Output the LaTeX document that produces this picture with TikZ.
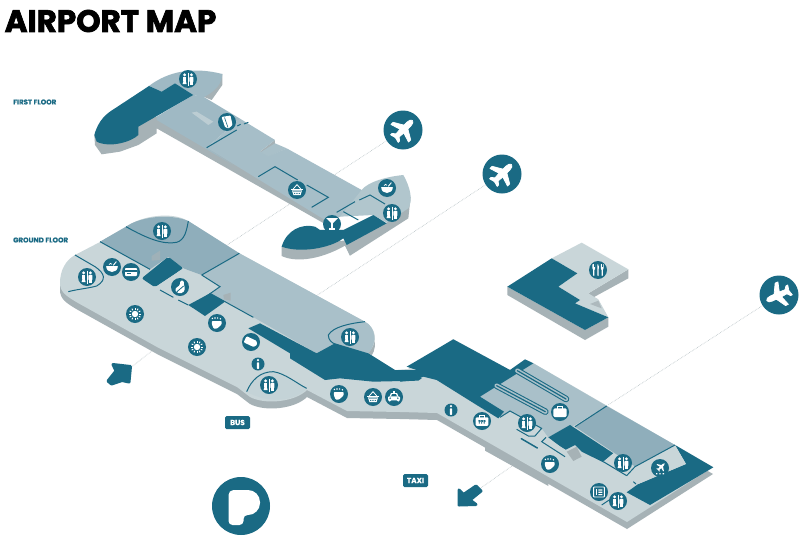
\documentclass[tikz,border=0pt]{standalone}
\usepackage{fontspec}
\setmainfont{Poppins}[BoldFeatures={FakeBold=2.2}]
\newfontfamily\lblfont{Poppins}[BoldFeatures={FakeBold=0.1}]
\definecolor{mapteal}{HTML}{1A6A84}
\definecolor{sidegrey}{HTML}{A6B2B6}
\definecolor{floorlight}{HTML}{C9D6D9}
\definecolor{floormid}{HTML}{A9C0C9}
\definecolor{floordeep}{HTML}{8FAEBB}
\definecolor{floorupper}{HTML}{9FB9C4}
\definecolor{floorupperb}{HTML}{B1C6CD}
\definecolor{linkgrey}{HTML}{B5BFC2}
\tikzset{
  zA/.style={shift={(0,0)},scale=0.33333},
  zB/.style={shift={(40,210)},scale=0.33333},
  zC/.style={shift={(400,330)},scale=0.33333},
  zD/.style={shift={(490,230)},scale=0.33333},
  wall/.style={draw=mapteal,line width=1pt},
  link/.style={draw=linkgrey,line width=.6pt,densely dotted},
  iconc/.style={circle,fill=mapteal,minimum size=18pt,inner sep=0pt},
  bigc/.style={circle,fill=mapteal,minimum size=39pt,inner sep=0pt},
  tagbox/.style={fill=mapteal,rounded corners=1.5pt,text=white,font=\lblfont\bfseries\fontsize{7.4}{8}\selectfont,minimum width=25pt,minimum height=13pt,inner sep=0pt},
  floorlabel/.style={text=mapteal,anchor=west,inner sep=0pt,font=\lblfont\bfseries\fontsize{7}{8}\selectfont},
  ic-wc/.pic={
    \fill[white] (-3.4,-4.2) circle (1.6) (3.4,-4.2) circle (1.6);
    \fill[white] (-4.9,-1.8) rectangle (-1.9,1.5);
    \fill[white] (-3.4,-2.2) -- (-1.4,5) -- (-5.4,5) -- cycle;
    \fill[white,rounded corners=.8pt] (1.4,-2.2) rectangle (5.4,3.2);
    \fill[white] (2,3) rectangle (4.8,5.5);
    \draw[white,line width=.8pt] (0,-6.5) -- (0,6.5);
  },
  ic-sun/.pic={
    \fill[white] (0,0) circle (3.2);
    \foreach \a in {0,30,...,330}{\draw[white,line width=.9pt] (\a:4.3) -- (\a:6.2);}
  },
  ic-bowl/.pic={
    \fill[white] (-5.8,-.8) -- (5.8,-.8) .. controls (5.8,3) and (3,5) .. (0,5) .. controls (-3,5) and (-5.8,3) .. (-5.8,-.8) -- cycle;
    \draw[white,line width=.9pt] (1.2,-1.6) -- (4.4,-5.4);
    \draw[white,line width=.7pt] (-3,-2.4) .. controls (-2,-4) and (-.8,-4) .. (0,-2.6);
  },
  ic-card/.pic={
    \fill[white,rounded corners=.8pt] (-6,-4) rectangle (6,4);
    \fill[mapteal] (-6,-1.8) rectangle (6,-.2);
    \fill[mapteal] (-4.5,1.4) rectangle (-.5,2.2);
  },
  ic-tag/.pic={
    \fill[white,rounded corners=1pt,rotate=-25] (-6.5,-3.4) -- (4.5,-3.4) -- (6.8,0) -- (4.5,3.4) -- (-6.5,3.4) -- cycle;
  },
  ic-drink/.pic={
    \fill[white,rounded corners=.8pt] (-5.5,-5) -- (3.5,-6.5) -- (5.5,3) -- (1.5,6.5) -- (-2,5) -- cycle;
    \draw[mapteal,line width=.6pt] (-2.5,-4.5) -- (1,5.5);
  },
  ic-coffee/.pic={
    \fill[white,rounded corners=.8pt] (-5.2,-2) -- (4.6,-2) -- (4.6,1.5) -- (0,5.6) -- (-3.4,5.6) -- (-5.2,1) -- cycle;
    \fill[white] (-4.6,-4.6) circle (.8) (-2,-5) circle (.8) (.6,-5) circle (.8) (3.4,-4.2) circle (.8);
  },
  ic-info/.pic={
    \fill[white] (0,-4.6) circle (1.4);
    \fill[white,rounded corners=.6pt] (-1.3,-2) rectangle (1.3,5.6);
  },
  ic-basket/.pic={
    \fill[white] (-6,-1) rectangle (6,.4);
    \fill[white] (-5,.4) -- (5,.4) -- (3.6,5) -- (-3.6,5) -- cycle;
    \draw[white,line width=.8pt] (-3.8,-1) -- (0,-5.4) -- (3.8,-1);
    \foreach \p in {-3,-1,1,3}{\fill[mapteal] (\p,1.5) circle (.55);\fill[mapteal] (\p*.8,3.4) circle (.55);}
  },
  ic-car/.pic={
    \fill[white,rounded corners=1pt] (-6,-.6) rectangle (6,3.4);
    \fill[white] (-4.4,-.6) -- (-3,-4) -- (3,-4) -- (4.4,-.6) -- cycle;
    \fill[mapteal] (-2.8,-1) -- (-1.9,-3) -- (1.9,-3) -- (2.8,-1) -- cycle;
    \fill[white] (-1.3,-5.6) rectangle (1.3,-4);
    \fill[white] (-4.2,3) circle (1.6) (4.2,3) circle (1.6);
    \fill[mapteal] (-3.8,1.2) circle (.8) (3.8,1.2) circle (.8);
  },
  ic-lug/.pic={
    \draw[white,line width=.8pt] (-2.4,-3.4) -- (-2.4,-5.2) -- (2.4,-5.2) -- (2.4,-3.4);
    \fill[white,rounded corners=1pt] (-6.4,-3.6) rectangle (6.4,4.8);
    \node[text=mapteal,inner sep=0pt,font=\lblfont\bfseries\fontsize{4.6}{5}\selectfont] at (0,.8) {???};
  },
  ic-case/.pic={
    \draw[white,line width=.9pt] (-2.6,-3.2) -- (-2.6,-5.4) -- (2.6,-5.4) -- (2.6,-3.2);
    \fill[white,rounded corners=1.2pt] (-6.6,-3.6) rectangle (6.6,5);
  },
  ic-cocktail/.pic={
    \fill[white] (-6,-6) -- (6,-6) -- (.6,-.6) -- (-.6,-.6) -- cycle;
    \fill[white] (-.55,-.8) rectangle (.55,4.6);
    \fill[white] (-3.4,4.4) rectangle (3.4,5.6);
  },
  ic-fork/.pic={
    \fill[white,rounded corners=.6pt] (-5.6,-6) -- (-2.8,-6) -- (-2.8,-1.2) -- (-3.6,-.4) -- (-3.6,6) -- (-4.8,6) -- (-4.8,-.4) -- (-5.6,-1.2) -- cycle;
    \fill[mapteal] (-4.5,-6) rectangle (-4.1,-2.6);
    \fill[white,rounded corners=.6pt] (-.6,6) -- (-.6,-6) .. controls (.9,-5.6) and (1,-2) .. (.6,0) -- (.6,6) -- cycle;
    \fill[white,rounded corners=.6pt] (2.8,-6) -- (5.6,-6) -- (5.6,-1.2) -- (4.8,-.4) -- (4.8,6) -- (3.6,6) -- (3.6,-.4) -- (2.8,-1.2) -- cycle;
    \fill[mapteal] (4.1,-6) rectangle (4.5,-2.6);
  },
  ic-gate/.pic={
    \fill[white,rotate=-45,shift={(0,-1.5)},scale=.42] (0,-12) .. controls (1.8,-12) and (2.4,-10) .. (2.4,-8) -- (2.4,-4) -- (11,1.5) -- (11,4) -- (2.4,1.5) -- (2,7) -- (5,9.5) -- (5,11) -- (0,10) -- (-5,11) -- (-5,9.5) -- (-2,7) -- (-2.4,1.5) -- (-11,4) -- (-11,1.5) -- (-2.4,-4) -- (-2.4,-8) .. controls (-2.4,-10) and (-1.8,-12) .. (0,-12) -- cycle;
    \fill[white] (-4,5) rectangle (-2.6,6.4) (-.7,5) rectangle (.7,6.4) (2.6,5) rectangle (4,6.4);
  },
  ic-cal/.pic={
    \draw[white,line width=.9pt,rounded corners=.6pt] (-5.4,-5) rectangle (5.4,5);
    \fill[white] (-3.4,-2.6) rectangle (-1.8,3.2);
    \fill[white] (-.6,-2.6) rectangle (3.4,-1.4) (-.6,-.4) rectangle (3.4,.8) (-.6,2) rectangle (3.4,3.2);
  },
  ic-shop/.pic={
    \fill[white,rounded corners=1.5pt] (.2,-6.5) -- (3.8,-6.5) -- (3.8,-2) -- (5.2,1.5) -- (3,6) -- (-3,6) -- (-5.2,2.5) -- (-3,0) -- (.2,-1.8) -- cycle;
    \draw[mapteal,line width=.8pt] (-3.4,5) -- (3.6,-1);
  },
  bigplane/.pic={
    \fill[white,line join=round,draw=white,line width=.7pt] (0,-13.5) .. controls (1.9,-13.5) and (2.7,-11) .. (2.7,-8.5) -- (2.7,-4.2) -- (12.4,1.5) -- (12.4,4.6) -- (2.7,1.6) -- (2.2,7.6) -- (5.4,10.2) -- (5.4,12.2) -- (0,10.8) -- (-5.4,12.2) -- (-5.4,10.2) -- (-2.2,7.6) -- (-2.7,1.6) -- (-12.4,4.6) -- (-12.4,1.5) -- (-2.7,-4.2) -- (-2.7,-8.5) .. controls (-2.7,-11) and (-1.9,-13.5) .. (0,-13.5) -- cycle;
  },
}
\newcommand{\ico}[4]{\node[iconc] (#1) at (#2,#3) {}; \pic at (#1) {#4};}
\def\groundpath{(60,283) .. controls (60,270) and (66,260) .. (75,255) -- (100,242) -- (126,227) .. controls (140,216) and (172,211) .. (188,221) -- (239,253) -- (365,322) .. controls (376,328) and (379,342) .. (368,353) -- (395,370) -- (408,369) -- (453,339) -- (510,370) -- (527,360) -- (533,363) -- (713,467) -- (627,522) -- (437,413) -- (400,412) -- (347,411) -- (307,390) .. controls (295,402) and (265,405) .. (250,397) -- (237,387) -- (157,347) -- (78,303) .. controls (66,296) and (60,292) .. (60,283) -- cycle}
\begin{document}
\begin{tikzpicture}[x=1pt,y=-1pt]
\useasboundingbox (0,0) rectangle (808,546);
\fill[white] (0,0) rectangle (808,546);
\node[anchor=west,inner sep=0pt,font=\bfseries\fontsize{31}{33}\selectfont,text=black] (title) at (4.5,21) {AIRPORT MAP};
\node[floorlabel] (firstlbl) at (13,102) {FIRST FLOOR};
\node[floorlabel] (groundlbl) at (13,240) {GROUND FLOOR};
\node[tagbox] (bus) at (237.5,422.5) {BUS};
\node[tagbox] (taxi) at (415.5,480.5) {TAXI};
% big circles and links
\node[bigc] (dep1) at (403,130) {};
\node[bigc] (dep2) at (502,174) {};
\node[bigc] (arr) at (779,295) {};
\coordinate (l1) at (224,247);
\coordinate (l2) at (313,298);
\coordinate (l3) at (608,405);
\coordinate (l4) at (157,347);
\coordinate (l5) at (512,466);
\coordinate (a1) at (125,372);
\coordinate (a2) at (468,497);
\draw[link] (dep1) -- (l1);
\draw[link] (dep2) -- (l2);
\draw[link] (arr) -- (l3);
\draw[link] (a1) -- (l4);
\draw[link] (a2) -- (l5);
\pic[rotate=-45] at (dep1) {bigplane};
\pic[rotate=-45] at (dep2) {bigplane};
\pic[rotate=115] at (arr) {bigplane};
% first floor
\begin{scope}[zA]
\fill[sidegrey] (283,405) -- (285,435) -- (305,463) -- (360,455) -- (415,435) -- (470,400) -- (470,385) -- (975,672) -- (990,660) -- (470,350) -- cycle;
\fill[sidegrey] (667,222) -- (667,255) -- (635,300) -- (610,290) -- (640,270) -- cycle;
\fill[sidegrey] (825,420) -- (825,445) -- (805,468) -- (780,455) -- cycle;
\fill[floormid] (780,458) -- (805,472) -- (860,445) -- (825,430) -- cycle;
\fill[sidegrey] (1232,590) -- (1225,655) -- (1050,767) -- (1035,735) -- (1160,668) -- cycle;
\fill[sidegrey] (845,740) -- (845,768) .. controls (880,785) and (950,785) .. (1035,737) -- (1050,767) -- (1050,720) -- cycle;
% top lobe
\fill[floorupper] (447,258) .. controls (490,225) and (560,195) .. (667,222) .. controls (665,250) and (650,272) .. (610,292) -- (580,285) -- (525,250) -- (485,275) -- cycle;
% corridor
\fill[floorupper] (470,350) -- (580,285) -- (610,290) -- (720,356) -- (620,443) -- (700,495) -- (470,360) -- cycle;
\fill[floorupper!60!floorupperb] (720,356) -- (825,420) -- (780,455) -- (805,470) -- (860,445) -- (1085,570) -- (1120,600) -- (1000,660) -- (975,660) -- (620,443) -- cycle;
\fill[floorlight!70!floorupper] (575,338) -- (590,335) -- (640,365) -- (625,375) -- cycle;
% right lobe
\fill[floorupperb] (1085,570) .. controls (1105,545) and (1160,530) .. (1210,525) .. controls (1230,560) and (1240,600) .. (1225,625) -- (1160,668) -- (1120,645) -- (1020,650) -- cycle;
% dark parts
\fill[mapteal] (283,405) .. controls (295,360) and (320,340) .. (345,325) -- (447,258) -- (485,275) -- (525,250) -- (580,285) -- (415,380) -- (415,405) .. controls (395,425) and (330,445) .. (290,425) -- cycle;
\fill[mapteal] (845,740) .. controls (860,690) and (905,670) .. (945,680) -- (960,690) -- (1030,690) -- (1120,645) -- (1160,670) -- (1040,735) -- (1030,715) .. controls (990,745) and (900,760) .. (845,740) -- cycle;
\draw[wall] (620,443) -- (710,390);
\draw[wall] (712,378) -- (722,373) (732,372) -- (745,367);
\draw[wall] (775,530) -- (825,500) -- (893,540);
\draw[wall] (920,555) -- (985,592) -- (935,622);
\draw[wall] (1010,637) -- (1065,605);
\draw[wall] (1030,635) -- (1075,660);
\draw[wall] (1078,600) -- (1110,585) -- (1155,612);
\end{scope}
% island
\begin{scope}[zD]
\fill[sidegrey] (52,170) -- (52,195) -- (285,330) -- (355,290) -- (355,262) -- (285,300) -- cycle;
\fill[sidegrey] (415,118) -- (415,145) -- (305,205) -- (295,190) -- cycle;
\fill[floorlight] (185,85) -- (275,38) -- (415,118) -- (295,190) -- (325,208) -- (355,262) -- (255,220) -- (270,210) -- (205,170) -- (262,130) -- cycle;
\fill[sidegrey!80!floorlight] (300,222) -- (325,212) -- (335,235) -- cycle;
\fill[mapteal] (52,170) -- (185,85) -- (262,130) -- (205,170) -- (270,210) -- (255,220) -- (355,262) -- (285,300) -- cycle;
\end{scope}
% ground floor
\fill[sidegrey,shift={(0,7)}] \groundpath;
\begin{scope}[zC]
\fill[sidegrey] (255,340) -- (255,362) -- (445,468) -- (445,440) -- cycle;
\end{scope}
\fill[floorlight] \groundpath;
\begin{scope}[zB]
\fill[floordeep] (180,95) -- (258,50) .. controls (300,20) and (390,10) .. (445,33) -- (598,130) -- (485,195) -- (430,175) -- (385,140) -- (330,178) -- cycle;
\fill[floormid] (598,130) -- (975,335) .. controls (1005,350) and (1015,395) .. (985,430) -- (885,402) -- (830,430) -- (550,270) -- (510,250) -- (540,230) -- (485,195) -- cycle;
\fill[sidegrey!70!floordeep] (335,138) -- (360,122) -- (360,150) -- (335,152) -- cycle;
\fill[sidegrey] (550,255) -- (572,248) -- (572,272) -- (552,268) -- cycle;
\fill[mapteal,rounded corners=2pt] (305,205) -- (385,140) -- (430,175) -- (345,232) -- cycle;
\fill[floorlight] (345,232) -- (430,175) -- (540,230) -- (480,275) -- (415,270) -- cycle;
\fill[mapteal] (445,285) -- (510,250) -- (555,275) -- (495,318) -- cycle;
\fill[mapteal] (625,355) -- (660,340) -- (830,430) -- (885,400) -- (985,430) -- (1065,480) -- (1110,480) -- (1145,505) -- (1135,512) -- (1000,515) -- (900,505) -- (855,510) -- (750,445) -- (750,430) -- cycle;
\draw[wall] (258,50) .. controls (320,85) and (370,105) .. (410,97) .. controls (435,90) and (440,60) .. (445,33);
\draw[wall] (180,95) -- (330,178);
\draw[wall] (485,195) -- (598,130);
\draw[wall] (485,195) -- (540,230) -- (480,272);
\draw[wall] (360,240) -- (400,262);
\draw[wall] (415,270) -- (445,285);
\draw[wall] (510,250) -- (640,322);
\draw[wall] (105,135) -- (165,170) .. controls (195,190) and (200,210) .. (170,228) .. controls (145,235) and (110,238) .. (85,245);
\draw[wall] (975,335) .. controls (930,340) and (880,350) .. (865,375) .. controls (865,390) and (875,398) .. (885,402);
\fill[floorlight!85!floormid] (620,545) .. controls (635,510) and (660,485) .. (700,485) -- (800,535) .. controls (770,570) and (690,585) .. (620,545) -- cycle;
\draw[wall] (620,545) .. controls (635,510) and (660,485) .. (700,485) .. controls (735,490) and (770,520) .. (800,535);
\end{scope}
\begin{scope}[zC]
\fill[floormid] (240,200) -- (375,105) -- (400,100) -- (620,228) -- (525,285) -- (445,322) -- (425,295) -- (330,243) -- (300,262) -- cycle;
\fill[floordeep] (525,290) -- (620,228) -- (825,345) -- (705,410) -- cycle;
\fill[mapteal] (0,120) -- (50,120) -- (20,110) -- (160,28) -- (330,120) -- (375,88) -- (400,100) -- (240,200) -- (312,245) -- (295,265) -- (230,225) -- (110,150) -- (70,140) -- (40,152) -- (0,155) -- cycle;
\fill[mapteal] (445,322) -- (510,285) -- (530,298) -- (640,370) -- (610,397) -- (545,365) -- (525,345) -- (495,360) -- cycle;
\fill[floorlight] (610,395) -- (640,370) -- (705,410) -- (680,432) -- cycle;
\fill[mapteal] (825,345) -- (940,412) -- (750,525) -- (680,487) -- (715,462) -- (858,402) -- cycle;
\fill[floorlight] (705,410) -- (825,345) -- (858,402) -- (715,462) -- (680,437) -- cycle;
\fill[floorlight] (300,262) -- (330,243) -- (425,295) -- (405,318) -- (385,318) -- cycle;
\draw[wall] (300,262) -- (330,243) -- (425,295) -- (405,318) -- (385,318) -- (350,298);
\fill[floorlight] (425,335) -- (440,325) -- (498,360) -- (495,380) -- cycle;
\draw[wall] (438,322) -- (425,335) -- (495,380);
\fill[sidegrey] (500,365) -- (530,350) -- (545,380) -- (520,393) -- cycle;
\draw[line width=1.5pt,mapteal,line cap=round] (364,326) -- (412,354);
\draw[wall] (525,290) -- (620,228);
\draw[wall] (610,395) -- (680,437);
\draw[wall] (680,437) -- (705,410) -- (825,345);
\draw[wall] (700,455) -- (708,462);
\draw[wall] (605,525) -- (635,505);
\draw[mapteal,line width=6.5pt,line cap=round] (352,122) -- (498,207);
\draw[floormid,line width=4.4pt,line cap=round] (352,122) -- (498,207);
\draw[mapteal,line width=1.2pt,line cap=round] (352,122) -- (498,207);
\draw[mapteal,line width=6.5pt,line cap=round] (290,167) -- (436,245);
\draw[floormid,line width=4.4pt,line cap=round] (290,167) -- (436,245);
\draw[mapteal,line width=1.2pt,line cap=round] (290,167) -- (436,245);
\end{scope}
% icons
\ico{i1}{188}{79}{ic-wc}
\ico{i2}{227}{122}{ic-drink}
\ico{i3}{297}{190}{ic-basket}
\ico{i4}{332}{224}{ic-cocktail}
\ico{i5}{387}{188}{ic-bowl}
\ico{i6}{392}{213}{ic-wc}
\ico{i7}{162}{231}{ic-wc}
\ico{i8}{87}{277}{ic-wc}
\ico{i9}{112}{267}{ic-bowl}
\ico{i10}{131}{272}{ic-card}
\ico{i11}{180}{287}{ic-shop}
\ico{i12}{135}{314}{ic-sun}
\ico{i13}{197}{347}{ic-sun}
\ico{i14}{217}{323}{ic-coffee}
\ico{i15}{251}{342}{ic-tag}
\ico{i17}{269}{385}{ic-wc}
\ico{i18}{350}{337}{ic-wc}
\ico{i19}{339}{394}{ic-coffee}
\ico{i20}{373}{397}{ic-basket}
\ico{i21}{394}{397}{ic-car}
\ico{i23}{482}{421}{ic-lug}
\ico{i24}{527}{423}{ic-wc}
\ico{i25}{560}{412}{ic-case}
\ico{i26}{550}{464}{ic-coffee}
\ico{i27}{623}{463}{ic-wc}
\ico{i28}{660}{468}{ic-gate}
\ico{i29}{599}{492}{ic-cal}
\ico{i30}{618}{501}{ic-wc}
\ico{i31}{598}{270}{ic-fork}
\node[iconc,minimum size=13pt] (i16) at (258,364) {}; \pic[scale=.85] at (i16) {ic-info};
\node[iconc,minimum size=13pt] (i22) at (451,410) {}; \pic[scale=.85] at (i22) {ic-info};
% arrows
\fill[mapteal,draw=mapteal,line width=3pt,line join=round] (113,364.5) -- (130.5,366.5) -- (129,382) -- (122,380.5) -- (111.5,384) -- (108,381) -- (116,371) -- cycle;
\fill[mapteal,draw=mapteal,line width=3pt,line join=round] (459,490) -- (463.5,494.5) -- (476,486) -- (481,491) -- (470,500) -- (476,504.5) -- (459,505) -- cycle;
% parking
\node[circle,fill=mapteal,minimum size=58pt,inner sep=0pt] (park) at (241,506) {};
\fill[white,rounded corners=5pt] (228.5,525) -- (228.5,490) [rounded corners=12pt] -- (260,490) -- (260,515) [rounded corners=4pt] -- (243.5,515) -- (243.5,525) -- cycle;
\end{tikzpicture}
\end{document}
